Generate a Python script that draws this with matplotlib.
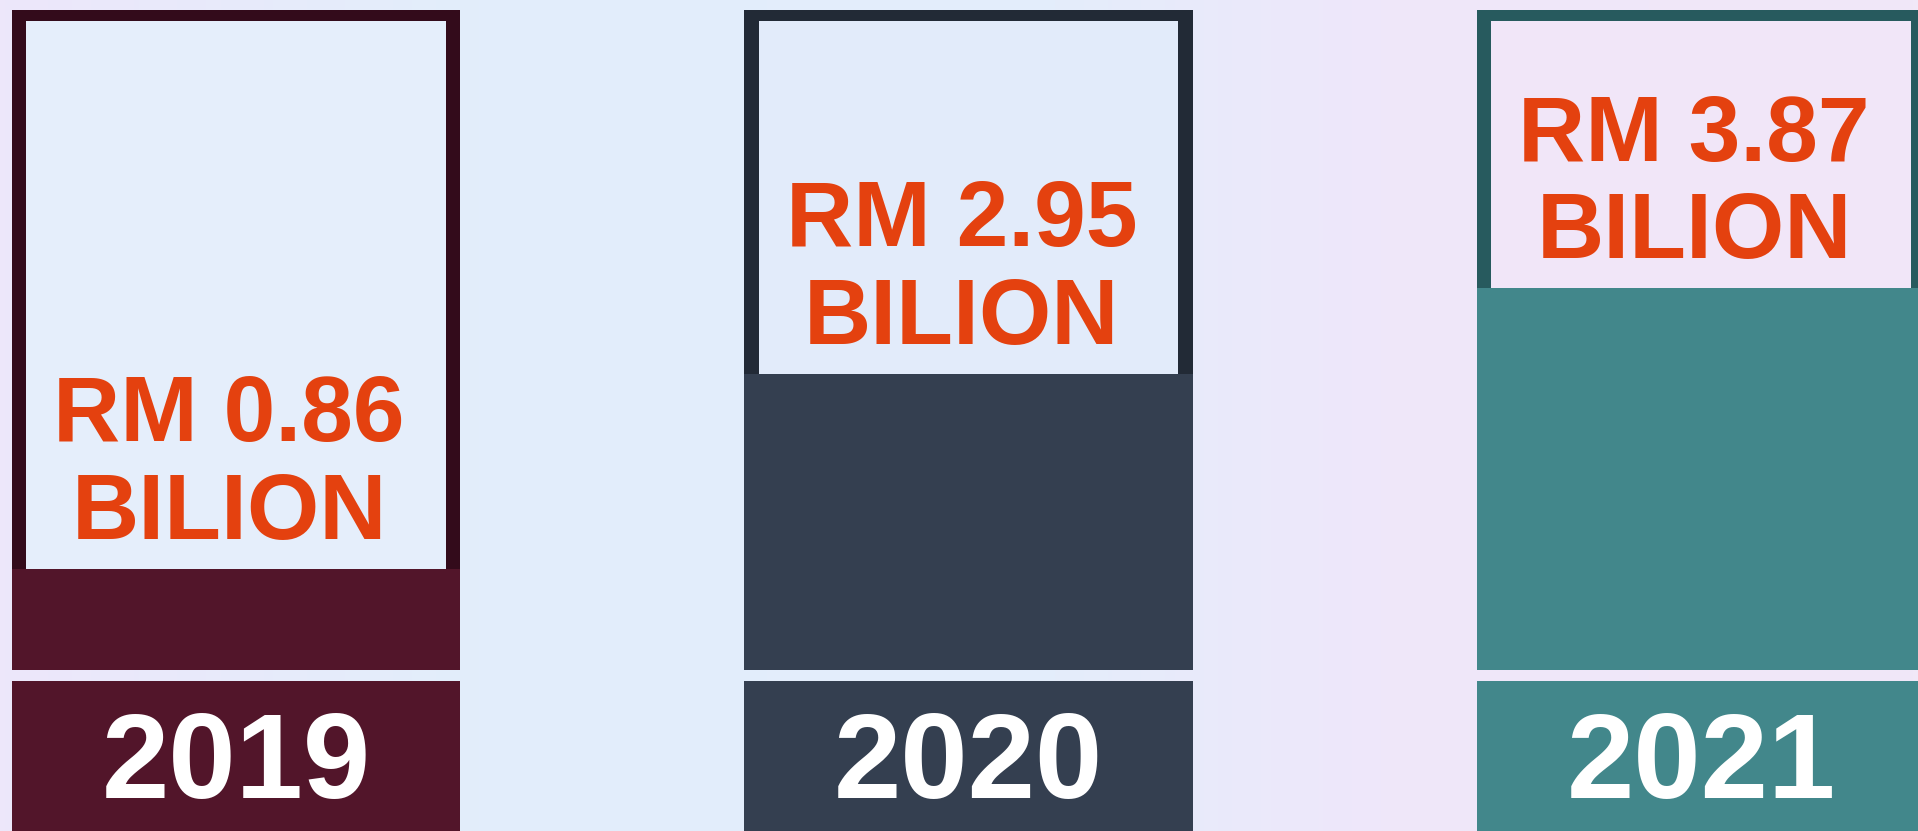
import matplotlib.pyplot as plt
import numpy as np
from matplotlib.colors import to_rgb

# data
years = ['2019', '2020', '2021']
values = [0.86, 2.95, 3.87]
labels = ['RM 0.86\nBILION', 'RM 2.95\nBILION', 'RM 3.87\nBILION']

# colours
fill_colors = ['#52152a', '#343f50', '#42878b']
frame_colors = ['#330b1b', '#222a36', '#275a5e']
panel_colors = ['#e5eefb', '#e2ebfa', '#f1e6f8']
label_color = '#e4410f'

W, H = 1918, 831
fig = plt.figure(figsize=(W / 100, H / 100), dpi=100)

# soft background gradient
bg = fig.add_axes([0, 0, 1, 1], zorder=0)
stops = [0.0, 0.25, 0.55, 0.72, 1.0]
stop_cols = ['#ede7fa', '#e2eefb', '#e4edfb', '#efe7fa', '#f1e8f8']
xs = np.linspace(0, 1, 400)
grad = np.array([[np.interp(t, stops, [to_rgb(c)[k] for c in stop_cols])
                  for k in range(3)] for t in xs])
bg.imshow(grad[np.newaxis, :, :], aspect='auto', extent=[0, 1, 0, 1])
bg.axis('off')

x = np.arange(len(years))
xlim = (-0.322, 2.296)
base = -0.224       # value at the bottom edge of the frames
top = 6.85          # value at the top edge of the frames
panel_top = 6.73
frame_w = 0.612
panel_w = 0.573

font = ['Liberation Sans', 'DejaVu Sans']

# upper part: bars
ax = fig.add_axes([0, 161 / H, 1, 660 / H], zorder=1)
ax.set_facecolor('none')
ax.bar(x, top - base, bottom=base, width=frame_w, color=frame_colors)
ax.bar(x, [panel_top - v for v in values], bottom=values, width=panel_w,
       color=panel_colors)
ax.bar(x, [v - base for v in values], bottom=base, width=frame_w,
       color=fill_colors)
for xi, v, lab in zip(x, values, labels):
    ax.annotate(lab, (xi, v), xytext=(-5, 8), textcoords='offset points',
                ha='center', va='bottom', fontsize=67, fontweight='bold',
                color=label_color, linespacing=1.17, family=font)
ax.set_xlim(*xlim)
ax.set_ylim(base, top)
ax.axis('off')

# lower part: year boxes
ax2 = fig.add_axes([0, 0, 1, 150 / H], zorder=1)
ax2.set_facecolor('none')
ax2.bar(x, 1, width=frame_w, color=fill_colors)
for xi, yr in zip(x, years):
    ax2.text(xi, 0.22, yr, ha='center', va='baseline', fontsize=87,
             fontweight='bold', color='white', family=font)
ax2.set_xlim(*xlim)
ax2.set_ylim(0, 1)
ax2.axis('off')

fig.savefig('out.png', dpi=100)
